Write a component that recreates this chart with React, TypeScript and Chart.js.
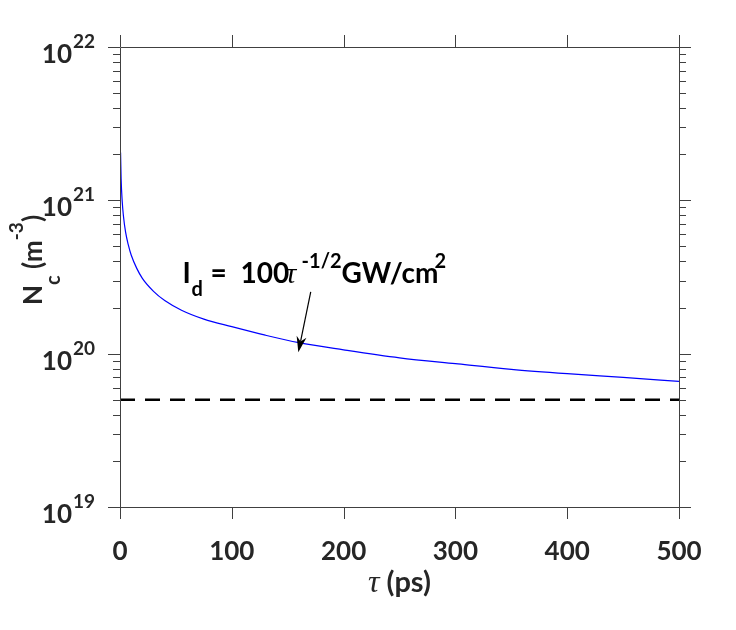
import React, { useEffect, useRef } from "react";
import { Chart, registerables } from "chart.js";

Chart.register(...registerables);

// ---- data ----
const tauPs = [0.5, 1, 2, 3, 5, 7.5, 10, 15, 20, 30, 40, 55, 75, 100, 130, 160, 200, 250, 300, 350, 400, 450, 500];
const ncValues = [
  2.05e21, 1.38e21, 9.8e20, 8.0e20, 6.2e20, 5.1e20, 4.4e20, 3.6e20, 3.1e20, 2.55e20, 2.22e20,
  1.92e20, 1.68e20, 1.5e20, 1.32e20, 1.18e20, 1.06e20, 9.4e19, 8.6e19, 7.9e19, 7.4e19, 7.0e19, 6.6e19,
];
const thresholdRange = [0, 500];
const thresholdValue = 5e19;
const xTickValues = [0, 100, 200, 300, 400, 500];
const xTickLabels = ["0", "100", "200", "300", "400", "500"];
const yDecadeExponents = [19, 20, 21, 22];
const yTickLabels = ["19", "20", "21", "22"];
// annotation anchors in data coordinates
const annotationTextAnchor = { x: 56, y: 2.88e20 };
const arrowTail = { x: 170.6, y: 2.53e20 };
const arrowTip = { x: 159.5, y: 1.02e20 };

const SANS = "Lato, 'Open Sans', sans-serif";
const TEXT_COLOR = "#262626";

type Part = { text: string; font: string; dy?: number; dx?: number };

function drawRich(ctx: CanvasRenderingContext2D, parts: Part[], x: number, y: number, align: "left" | "center" = "left") {
  ctx.textAlign = "left";
  ctx.textBaseline = "alphabetic";
  let total = 0;
  for (const p of parts) {
    ctx.font = p.font;
    total += ctx.measureText(p.text).width;
  }
  let cx = align === "center" ? x - total / 2 : x;
  for (const p of parts) {
    ctx.font = p.font;
    ctx.fillText(p.text, cx, y + (p.dy || 0));
    cx += ctx.measureText(p.text).width;
  }
}

// parts placed at fixed offsets from an anchor
function drawPlaced(ctx: CanvasRenderingContext2D, parts: Part[], x: number, y: number) {
  ctx.textAlign = "left";
  ctx.textBaseline = "alphabetic";
  for (const p of parts) {
    ctx.font = p.font;
    ctx.fillText(p.text, x + (p.dx || 0), y + (p.dy || 0));
  }
}

const decorPlugin = {
  id: "decor",
  afterDraw(chart: any) {
    const { ctx, chartArea, scales } = chart;
    const { left, right, top, bottom } = chartArea;
    const xs = scales.x;
    const ys = scales.y;
    const r = (v: number) => Math.round(v) + 0.5;
    ctx.save();
    ctx.strokeStyle = "#404040";
    ctx.lineWidth = 1;
    // box
    ctx.beginPath();
    ctx.moveTo(r(left), r(top));
    ctx.lineTo(r(right), r(top));
    ctx.lineTo(r(right), r(bottom));
    ctx.lineTo(r(left), r(bottom));
    ctx.closePath();
    ctx.stroke();

    const major = 12;
    const minor = 7;
    ctx.beginPath();
    for (const v of xTickValues) {
      const px = r(xs.getPixelForValue(v));
      ctx.moveTo(px, bottom);
      ctx.lineTo(px, bottom + major);
      ctx.moveTo(px, top);
      ctx.lineTo(px, top - major);
    }
    for (const e of yDecadeExponents) {
      const py = r(ys.getPixelForValue(Math.pow(10, e)));
      ctx.moveTo(left, py);
      ctx.lineTo(left - major, py);
      ctx.moveTo(right, py);
      ctx.lineTo(right + major, py);
      if (e < yDecadeExponents[yDecadeExponents.length - 1]) {
        for (let k = 2; k <= 9; k++) {
          const pm = r(ys.getPixelForValue(k * Math.pow(10, e)));
          ctx.moveTo(left, pm);
          ctx.lineTo(left - minor, pm);
          ctx.moveTo(right, pm);
          ctx.lineTo(right + minor, pm);
        }
      }
    }
    ctx.stroke();

    // x tick labels
    ctx.fillStyle = TEXT_COLOR;
    ctx.font = `bold 26px ${SANS}`;
    ctx.textAlign = "center";
    ctx.textBaseline = "alphabetic";
    xTickValues.forEach((v, i) => {
      ctx.fillText(xTickLabels[i], xs.getPixelForValue(v), bottom + 53);
    });

    // y tick labels 10^e
    yDecadeExponents.forEach((e, i) => {
      const py = ys.getPixelForValue(Math.pow(10, e));
      ctx.font = `bold 26px ${SANS}`;
      ctx.textAlign = "right";
      ctx.fillText("10", left - 48, py + 16);
      ctx.font = `bold 19px ${SANS}`;
      ctx.textAlign = "left";
      ctx.fillText(yTickLabels[i], left - 47, py + 1);
    });

    // x title
    drawRich(
      ctx,
      [
        { text: "\u03C4", font: `italic 32px 'Liberation Serif', serif` },
        { text: " (ps)", font: `bold 29px ${SANS}` },
      ],
      (left + right) / 2,
      bottom + 85,
      "center"
    );

    // y title (rotated)
    ctx.save();
    ctx.translate(42, 260);
    ctx.rotate(-Math.PI / 2);
    drawRich(
      ctx,
      [
        { text: "N", font: `bold 26px ${SANS}` },
        { text: "c", font: `bold 20px ${SANS}`, dy: 18 },
        { text: " (m", font: `bold 26px ${SANS}` },
        { text: "-3", font: `bold 19px ${SANS}`, dy: -19 },
        { text: ")", font: `bold 26px ${SANS}` },
      ],
      0,
      0,
      "center"
    );
    ctx.restore();

    // annotation text
    ctx.fillStyle = "#000";
    const ax = xs.getPixelForValue(annotationTextAnchor.x);
    const ay = ys.getPixelForValue(annotationTextAnchor.y);
    drawPlaced(
      ctx,
      [
        { text: "I", font: `bold 28px ${SANS}`, dx: 0 },
        { text: "d", font: `bold 20px ${SANS}`, dx: 9, dy: 13 },
        { text: "=", font: `bold 28px ${SANS}`, dx: 28 },
        { text: "100", font: `bold 28px ${SANS}`, dx: 58 },
        { text: "\u03C4", font: `italic 30px 'Liberation Serif', serif`, dx: 103 },
        { text: "-1/2", font: `bold 20px ${SANS}`, dx: 119, dy: -15 },
        { text: "GW/cm", font: `bold 28px ${SANS}`, dx: 159 },
        { text: "2", font: `bold 20px ${SANS}`, dx: 252, dy: -15 },
      ],
      ax,
      ay
    );

    // arrow
    const tx = xs.getPixelForValue(arrowTail.x);
    const ty = ys.getPixelForValue(arrowTail.y);
    const hx = xs.getPixelForValue(arrowTip.x);
    const hy = ys.getPixelForValue(arrowTip.y);
    const ang = Math.atan2(hy - ty, hx - tx);
    const len = 16;
    const half = 5;
    const bx = hx - len * Math.cos(ang);
    const by = hy - len * Math.sin(ang);
    const nx = hx - 11 * Math.cos(ang);
    const ny = hy - 11 * Math.sin(ang);
    ctx.strokeStyle = "#000";
    ctx.lineWidth = 1.2;
    ctx.beginPath();
    ctx.moveTo(tx, ty);
    ctx.lineTo(nx, ny);
    ctx.stroke();
    ctx.fillStyle = "#000";
    ctx.beginPath();
    ctx.moveTo(hx, hy);
    ctx.lineTo(bx + half * Math.sin(ang), by - half * Math.cos(ang));
    ctx.lineTo(nx, ny);
    ctx.lineTo(bx - half * Math.sin(ang), by + half * Math.cos(ang));
    ctx.closePath();
    ctx.fill();

    ctx.restore();
  },
};

export default function App() {
  const canvasRef = useRef<HTMLCanvasElement | null>(null);

  useEffect(() => {
    if (!canvasRef.current) return;
    const chart = new Chart(canvasRef.current, {
      type: "line",
      data: {
        datasets: [
          {
            data: tauPs.map((t, i) => ({ x: t, y: ncValues[i] })),
            borderColor: "#0000ff",
            borderWidth: 1.2,
            pointRadius: 0,
            cubicInterpolationMode: "monotone",
            fill: false,
          },
          {
            data: thresholdRange.map((t) => ({ x: t, y: thresholdValue })),
            borderColor: "#000000",
            borderWidth: 2.5,
            borderDash: [15, 10],
            pointRadius: 0,
            fill: false,
          },
        ],
      },
      options: {
        animation: false,
        responsive: true,
        maintainAspectRatio: false,
        layout: { padding: { left: 120, right: 57, top: 47, bottom: 123 } },
        plugins: { legend: { display: false }, tooltip: { enabled: false } },
        scales: {
          x: { type: "linear", min: 0, max: 500, display: false },
          y: { type: "logarithmic", min: 1e19, max: 1e22, display: false },
        },
      },
      plugins: [decorPlugin],
    } as any);
    return () => chart.destroy();
  }, []);

  return (
    <div style={{ position: "fixed", left: 0, top: 0, width: 736, height: 630, background: "#fff" }}>
      <canvas ref={canvasRef} />
    </div>
  );
}
